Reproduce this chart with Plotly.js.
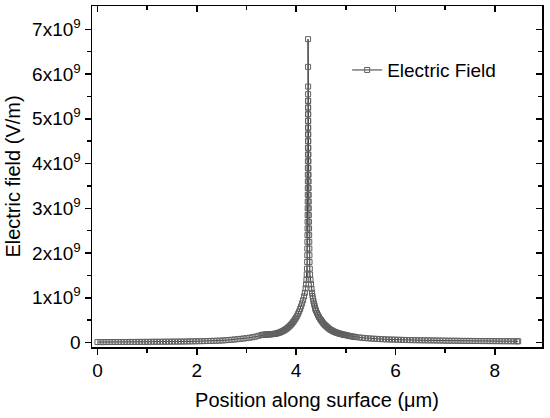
<!DOCTYPE html>
<html>
<head>
<meta charset="utf-8">
<script src="https://cdn.plot.ly/plotly-3.0.1.min.js"></script>
<style>html,body{margin:0;padding:0;background:#fff}#chart{width:550px;height:418px}</style>
</head>
<body>
<div id="chart"></div>
<script>
// Position along surface (um)
const positionUm = [
0.00,0.06,0.12,0.18,0.24,0.30,0.36,0.42,0.48,0.54,0.60,0.66,0.72,0.78,0.84,0.90,0.96,1.02,1.08,1.14,
1.20,1.26,1.32,1.38,1.44,1.50,1.56,1.62,1.68,1.74,1.80,1.86,1.92,1.98,2.04,2.10,2.16,2.22,2.28,2.34,
2.40,2.46,2.52,2.58,2.64,2.70,2.76,2.82,2.88,2.94,3.00,3.06,3.12,3.18,3.24,3.30,
3.32,3.34,3.36,3.38,3.40,3.42,3.44,3.46,3.48,3.50,3.52,3.54,3.56,3.58,3.60,3.62,3.64,3.66,3.68,3.70,
3.72,3.74,3.76,3.78,3.80,3.82,3.84,3.86,3.88,3.90,3.92,3.94,3.96,3.98,4.00,4.02,4.04,4.06,4.08,4.10,
4.12,4.14,4.16,4.175,4.19,4.20,4.207,4.213,4.218,4.222,
4.223,4.2245,4.226,4.2275,4.229,4.230,4.231,4.232,4.233,4.234,4.235,4.2355,4.236,4.2365,4.237,4.2375,
4.238,4.2385,4.2388,4.2391,4.2394,4.2396,4.2398,4.2399,
4.240,4.2405,4.241,
4.2415,4.242,4.2425,4.243,4.2435,4.244,4.2445,4.245,4.246,4.247,4.248,4.249,4.250,4.251,4.252,4.253,
4.254,4.255,4.256,4.258,4.260,4.262,4.264,4.266,4.268,4.270,4.275,4.28,4.29,4.30,4.31,4.32,4.33,4.34,
4.35,4.36,4.37,4.38,4.39,4.40,4.42,4.44,4.46,4.48,4.50,4.52,4.54,4.56,4.58,4.60,4.62,4.64,4.66,4.68,
4.70,4.72,4.74,4.76,4.78,4.80,4.82,4.84,4.86,4.88,4.90,4.92,4.94,4.96,4.98,5.00,5.03,5.06,5.09,5.12,
5.15,5.18,5.21,5.27,5.33,5.39,5.45,5.51,5.57,5.63,5.69,5.75,5.81,5.87,5.93,5.99,6.05,6.11,6.17,6.23,
6.29,6.35,6.41,6.47,6.53,6.59,6.65,6.71,6.77,6.83,6.89,6.95,7.01,7.07,7.13,7.19,7.25,7.31,7.37,7.43,
7.49,7.55,7.61,7.67,7.73,7.79,7.85,7.91,7.97,8.03,8.09,8.15,8.21,8.27,8.33,8.39,8.45,8.47
];
// Electric field, in units of 1e9 V/m
const fieldE9 = [
0.010,0.010,0.010,0.011,0.011,0.011,0.011,0.012,0.012,0.012,0.013,0.013,0.013,0.014,0.014,0.014,0.015,0.015,0.016,0.016,
0.017,0.017,0.018,0.018,0.019,0.020,0.021,0.021,0.022,0.023,0.024,0.025,0.026,0.028,0.029,0.031,0.032,0.034,0.036,0.038,
0.040,0.043,0.046,0.052,0.057,0.062,0.068,0.075,0.082,0.090,0.098,0.107,0.118,0.132,0.150,0.165,
0.172,0.170,0.176,0.173,0.180,0.176,0.184,0.180,0.187,0.184,0.191,0.188,0.196,0.193,0.202,0.207,0.215,0.220,0.230,0.238,
0.250,0.260,0.273,0.288,0.303,0.320,0.338,0.358,0.380,0.403,0.428,0.458,0.488,0.523,0.558,0.598,0.643,0.693,0.748,0.808,
0.875,0.945,1.030,1.110,1.210,1.300,1.400,1.520,1.650,1.800,
1.95,2.10,2.25,2.40,2.55,2.70,2.85,3.00,3.15,3.30,3.45,3.60,3.75,3.90,4.05,4.20,
4.35,4.50,4.65,4.80,4.95,5.10,5.25,5.40,
6.78,6.16,5.72,
5.55,5.40,5.25,5.10,4.95,4.80,4.65,4.50,4.35,4.20,4.05,3.90,3.75,3.60,3.45,3.30,
3.15,3.00,2.85,2.70,2.55,2.40,2.25,2.10,1.95,1.80,1.65,1.52,1.40,1.30,1.20,1.11,1.04,0.98,
0.92,0.87,0.83,0.78,0.74,0.71,0.66,0.61,0.57,0.53,0.50,0.47,0.44,0.41,0.39,0.37,0.35,0.33,0.31,0.295,
0.28,0.27,0.255,0.245,0.235,0.225,0.218,0.21,0.203,0.197,0.19,0.185,0.18,0.175,0.17,0.165,0.158,0.15,0.143,0.137,
0.131,0.126,0.121,0.113,0.106,0.099,0.094,0.089,0.085,0.081,0.077,0.074,0.071,0.068,0.066,0.064,0.062,0.060,0.058,0.056,
0.054,0.053,0.052,0.051,0.050,0.049,0.048,0.047,0.046,0.045,0.044,0.043,0.042,0.041,0.040,0.040,0.039,0.038,0.037,0.037,
0.036,0.035,0.035,0.034,0.033,0.033,0.032,0.032,0.031,0.031,0.030,0.030,0.029,0.029,0.028,0.028,0.028,0.027
];
const xTickVals = [0, 2, 4, 6, 8];
const xMinorVals = [1, 3, 5, 7];
const yTickVals = [0, 1, 2, 3, 4, 5, 6, 7];
const yTickText = ['0','1x10<sup>9</sup>','2x10<sup>9</sup>','3x10<sup>9</sup>','4x10<sup>9</sup>','5x10<sup>9</sup>','6x10<sup>9</sup>','7x10<sup>9</sup>'];
const yMinorVals = [0.5, 1.5, 2.5, 3.5, 4.5, 5.5, 6.5];
const seriesName = 'Electric Field';

const FONT = 'Liberation Sans, Arial, sans-serif';
const xRange = [-0.11, 8.95];
const yRange = [-0.1, 7.52];

const traces = [
  {
    x: positionUm, y: fieldE9, type: 'scatter', mode: 'lines+markers', name: seriesName,
    line: {color: '#3a3a3a', width: 1},
    marker: {symbol: 'square-open', size: 5, color: '#606060', line: {width: 1, color: '#606060'}},
    hoverinfo: 'skip'
  },
  {x: [], y: [], xaxis: 'x2', yaxis: 'y2', showlegend: false, hoverinfo: 'skip', type: 'scatter'}
];

const layout = {
  width: 550, height: 418,
  margin: {l: 92, r: 8, t: 6, b: 71},
  paper_bgcolor: '#fff', plot_bgcolor: '#fff',
  font: {family: FONT, size: 19, color: '#000'},
  showlegend: true,
  legend: {x: 0.567, y: 0.812, xanchor: 'left', yanchor: 'middle', bgcolor: 'rgba(0,0,0,0)', font: {family: FONT, size: 19, color: '#000'}},
  xaxis: {
    range: xRange, tickmode: 'array', tickvals: xTickVals, ticks: 'outside', ticklen: 6, tickwidth: 1.5, tickcolor: '#000',
    minor: {tickmode: 'array', tickvals: xMinorVals, ticks: 'outside', ticklen: 4, tickwidth: 1.5, tickcolor: '#000'},
    showline: true, linewidth: 1.5, linecolor: '#000', mirror: true, showgrid: false, zeroline: false,
    tickfont: {family: FONT, size: 19, color: '#000'},
    title: {text: 'Position along surface (\u03bcm)', font: {family: FONT, size: 20, color: '#000'}, standoff: 12}
  },
  xaxis2: {
    overlaying: 'x', side: 'top', anchor: 'y', range: xRange, tickmode: 'array', tickvals: xTickVals,
    ticks: 'inside', ticklen: 6, tickwidth: 1.5, tickcolor: '#000', showticklabels: false,
    minor: {tickmode: 'array', tickvals: xMinorVals, ticks: 'inside', ticklen: 4, tickwidth: 1.5, tickcolor: '#000'},
    showline: false, showgrid: false, zeroline: false
  },
  yaxis: {
    range: yRange, tickmode: 'array', tickvals: yTickVals, ticktext: yTickText, ticks: 'outside', ticklen: 6, tickwidth: 1.5, tickcolor: '#000',
    minor: {tickmode: 'array', tickvals: yMinorVals, ticks: 'outside', ticklen: 4, tickwidth: 1.5, tickcolor: '#000'},
    showline: true, linewidth: 1.5, linecolor: '#000', mirror: true, showgrid: false, zeroline: false,
    tickfont: {family: FONT, size: 19, color: '#000'},
    title: {text: 'Electric field (V/m)', font: {family: FONT, size: 20, color: '#000'}, standoff: 6}
  },
  yaxis2: {
    overlaying: 'y', side: 'right', anchor: 'x', range: yRange, tickmode: 'array', tickvals: yTickVals,
    ticks: 'inside', ticklen: 6, tickwidth: 1.5, tickcolor: '#000', showticklabels: false,
    minor: {tickmode: 'array', tickvals: yMinorVals, ticks: 'inside', ticklen: 4, tickwidth: 1.5, tickcolor: '#000'},
    showline: false, showgrid: false, zeroline: false
  }
};

Plotly.newPlot('chart', traces, layout, {staticPlot: true, displayModeBar: false});
</script>
</body>
</html>
